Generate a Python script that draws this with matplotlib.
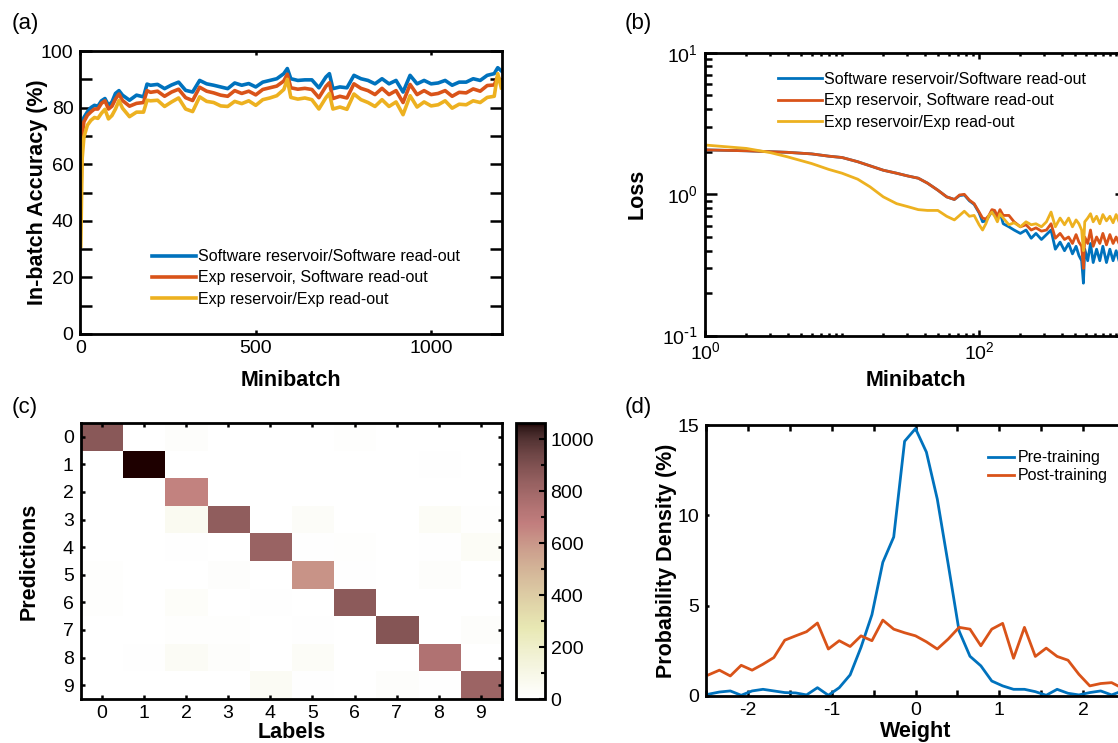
import matplotlib
matplotlib.use("Agg")
import matplotlib.pyplot as plt
import numpy as np
from matplotlib.ticker import FixedLocator, FixedFormatter, LogLocator, MultipleLocator, NullFormatter

plt.rcParams['font.family'] = ['Liberation Sans', 'DejaVu Sans']
plt.rcParams['mathtext.default'] = 'regular'

BLUE = '#0072BD'
ORANGE = '#D95319'
YELLOW = '#EDB120'
LABELS3 = ['Software reservoir/Software read-out',
           'Exp reservoir, Software read-out',
           'Exp reservoir/Exp read-out']

# (a) in-batch accuracy
mb_a = [1, 5, 10, 20, 30, 40, 50, 60, 70, 80, 90, 100, 110, 120, 140, 160, 180, 190,
        200, 220, 240, 260, 280, 300, 320, 340, 360, 380, 400, 420, 440, 460, 480,
        500, 520, 540, 560, 580, 590, 600, 620, 640, 660, 680, 700, 710, 720, 740,
        760, 780, 800, 820, 840, 860, 880, 900, 920, 940, 960, 980, 1000, 1020,
        1040, 1060, 1080, 1100, 1120, 1140, 1160, 1180, 1190, 1200]
acc_sw = [68, 74, 76.5, 78.5, 80, 80.8, 80.5, 82.4, 83.2, 80.8, 82, 85, 86, 84.4, 82.6,
          84.4, 83.8, 88.3, 87.9, 88.2, 86.7, 88, 89, 86.1, 85.5, 89.6, 88.4, 87.9,
          87.3, 86.7, 88.7, 87.9, 88.5, 87.3, 89, 89.6, 90.2, 92, 93.8, 90.2, 89.6,
          89.8, 89.8, 87, 90.8, 92, 86.7, 87.3, 87, 91.4, 90.2, 89.6, 88.4, 90.2,
          88.4, 89.6, 85.5, 91.4, 88.4, 89.6, 88.4, 88.7, 89.6, 87.9, 89, 89, 90.2,
          89.6, 91.4, 92, 94.1, 93]
acc_exp_sw = [45, 70, 75, 77.3, 78.5, 79.5, 79.5, 81.5, 82.4, 79.5, 80.5, 83, 84.8, 82.5,
              80.5, 81.5, 81.8, 86, 85.4, 85.8, 84, 85.5, 86.5, 83.5, 82.5, 87.2, 85.8,
              85.2, 84.4, 84, 86, 85, 85.8, 84.5, 86.4, 87, 87.6, 89.4, 91.8, 87, 86.5,
              86.8, 86.4, 83.5, 87.5, 88.8, 83.2, 84, 83.4, 88.4, 86.8, 86, 84.6, 86.8,
              84.6, 86, 81.8, 88.2, 84.6, 86, 84.6, 85, 86, 84, 85.4, 85.2, 86.6, 85.8,
              87.8, 88, 91, 89]
acc_exp = [31, 62, 69.6, 73.8, 75.5, 76.5, 76.2, 78, 79.4, 76, 77.2, 79.5, 82.5, 79.8,
           76.8, 78.4, 78.4, 82.6, 82.4, 82.6, 80.4, 82, 83.4, 79.5, 78.6, 83.8, 82.2,
           81.8, 80.6, 80.4, 82.2, 81.4, 82.4, 80.8, 82.8, 83.4, 84.2, 86.4, 90, 83.6,
           83, 83.4, 82.8, 79.5, 83.5, 85, 79.5, 80.2, 79.4, 84.8, 82.8, 81.8, 80.4,
           82.8, 80.4, 82, 77.5, 84.2, 80.2, 82, 80.6, 81, 82.4, 79.8, 81.2, 81, 82.4,
           81.8, 83.6, 84, 92, 87]

# (b) loss
mb_b = [1, 2, 3, 4, 6, 8, 10, 13, 16, 20, 25, 30, 36, 42, 50, 58, 66, 72, 78, 85, 92,
        100, 106, 112, 118, 124, 130, 136, 142, 150, 165, 180, 200, 220, 240, 260, 285,
        310, 335, 360, 390, 420, 450, 480, 510, 535, 560, 577, 590, 620, 650, 680, 720,
        760, 800, 850, 900, 950, 1000, 1050, 1100, 1150, 1200]
loss_sw = [2.06, 2.03, 2.0, 1.98, 1.93, 1.86, 1.82, 1.70, 1.59, 1.48, 1.41, 1.35, 1.30,
           1.20, 1.07, 0.96, 0.92, 0.98, 0.99, 0.90, 0.85, 0.74, 0.64, 0.65, 0.70, 0.76,
           0.75, 0.67, 0.75, 0.62, 0.59, 0.56, 0.53, 0.56, 0.49, 0.53, 0.48, 0.52, 0.56,
           0.41, 0.46, 0.40, 0.45, 0.38, 0.43, 0.37, 0.34, 0.236, 0.41, 0.34, 0.45,
           0.33, 0.41, 0.34, 0.43, 0.33, 0.41, 0.34, 0.40, 0.34, 0.39, 0.34, 0.37]
loss_exp_sw = [2.06, 2.03, 2.0, 1.98, 1.93, 1.86, 1.82, 1.70, 1.59, 1.48, 1.41, 1.35, 1.30,
               1.20, 1.07, 0.96, 0.92, 0.99, 1.0, 0.91, 0.86, 0.75, 0.68, 0.67, 0.71,
               0.78, 0.77, 0.70, 0.78, 0.71, 0.71, 0.64, 0.59, 0.61, 0.56, 0.58, 0.55,
               0.56, 0.62, 0.49, 0.53, 0.48, 0.50, 0.45, 0.52, 0.46, 0.43, 0.30, 0.50,
               0.45, 0.56, 0.43, 0.50, 0.45, 0.53, 0.44, 0.52, 0.45, 0.50, 0.45, 0.49,
               0.45, 0.47]
loss_exp = [2.23, 2.11, 1.97, 1.84, 1.65, 1.50, 1.41, 1.28, 1.13, 0.96, 0.86, 0.82, 0.78,
            0.77, 0.77, 0.70, 0.66, 0.71, 0.76, 0.70, 0.71, 0.61, 0.56, 0.62, 0.71, 0.75,
            0.70, 0.64, 0.73, 0.68, 0.61, 0.63, 0.59, 0.64, 0.61, 0.62, 0.59, 0.64, 0.75,
            0.59, 0.68, 0.61, 0.68, 0.59, 0.66, 0.62, 0.56, 0.40, 0.64, 0.68, 0.73, 0.64,
            0.70, 0.62, 0.72, 0.65, 0.70, 0.63, 0.72, 0.64, 0.70, 0.64, 0.68]
loss_ticks = [0.1, 1, 10]
loss_ticklabels = [r'$10^{\text{-1}}$', r'$10^{0}$', r'$10^{1}$']

# (c) confusion matrix, rows = predictions, columns = labels
digits = ['0', '1', '2', '3', '4', '5', '6', '7', '8', '9']
confusion = [
    [870, 0, 20, 0, 0, 0, 12, 0, 0, 0],
    [0, 1062, 0, 0, 0, 0, 0, 0, 8, 0],
    [0, 0, 660, 0, 0, 0, 0, 0, 0, 0],
    [0, 0, 55, 850, 0, 25, 0, 0, 35, 12],
    [0, 0, 8, 0, 820, 5, 10, 0, 6, 35],
    [12, 0, 0, 15, 0, 610, 8, 0, 18, 0],
    [10, 0, 22, 0, 8, 0, 860, 0, 0, 0],
    [0, 0, 10, 10, 0, 8, 0, 880, 0, 20],
    [0, 8, 40, 18, 0, 30, 0, 0, 740, 0],
    [0, 0, 0, 0, 45, 8, 0, 20, 5, 810],
]

# (d) weight distributions
weights = [-2.47, -2.34, -2.21, -2.08, -1.95, -1.82, -1.69, -1.56, -1.43, -1.30, -1.17,
           -1.04, -0.91, -0.78, -0.65, -0.52, -0.39, -0.26, -0.13, 0.0, 0.13, 0.26, 0.39,
           0.52, 0.65, 0.78, 0.91, 1.04, 1.17, 1.30, 1.43, 1.56, 1.69, 1.82, 1.95, 2.08,
           2.21, 2.34, 2.47]
pre_train = [0.1, 0.22, 0.28, 0.04, 0.28, 0.37, 0.28, 0.19, 0.17, 0.06, 0.46, 0.04, 0.46,
             1.17, 2.7, 4.5, 7.4, 8.8, 14.1, 14.8, 13.5, 10.9, 7.3, 3.6, 2.2, 1.67, 0.83,
             0.56, 0.37, 0.37, 0.24, 0.04, 0.37, 0.15, 0.06, 0.19, 0.28, 0.06, 0.28]
post_train = [1.17, 1.43, 1.11, 1.7, 1.43, 1.76, 2.13, 3.09, 3.33, 3.56, 4.04, 2.6, 3.06,
              2.74, 3.33, 3.06, 4.2, 3.7, 3.5, 3.33, 3.0, 2.6, 3.15, 3.8, 3.7, 2.78, 3.7,
              4.02, 2.09, 3.8, 2.19, 2.65, 2.19, 1.98, 1.2, 0.56, 0.69, 0.74, 0.43]

W, H = 1118, 743
fig = plt.figure(figsize=(W / 100, H / 100), dpi=100)


def box(l, r, t, b):
    return [l / W, (H - b) / H, (r - l) / W, (b - t) / H]


def style(ax, xlen, ylen):
    for s in ax.spines.values():
        s.set_linewidth(2.0)
    ax.tick_params(which='both', direction='in', top=True, right=True,
                   labelsize=14, width=1.8)
    ax.tick_params(axis='x', which='major', length=xlen, pad=4)
    ax.tick_params(axis='y', which='major', length=ylen, pad=5)


lab_font = dict(fontsize=15.5, fontweight='bold')

# ---- (a)
ax = fig.add_axes(box(80.4, 502.3, 51, 334))
ax.plot(mb_a, acc_sw, color=BLUE, lw=2.6, label=LABELS3[0])
ax.plot(mb_a, acc_exp_sw, color=ORANGE, lw=2.6, label=LABELS3[1])
ax.plot(mb_a, acc_exp, color=YELLOW, lw=2.6, label=LABELS3[2])
ax.set_xlim(0, 1203)
ax.set_ylim(0, 100)
ax.set_xticks([0, 500, 1000])
ax.set_yticks([0, 20, 40, 60, 80, 100])
ax.yaxis.set_minor_locator(MultipleLocator(10))
style(ax, 3, 8.5)
ax.tick_params(axis='y', which='minor', length=8.5)
ax.tick_params(axis='x', which='minor', length=0)
ax.set_xlabel('Minibatch', **lab_font)
ax.set_ylabel('In-batch Accuracy (%)', **lab_font)
ax.xaxis.set_label_coords(0.5, -0.127)
ax.yaxis.set_label_coords(-0.077, 0.5)
ax.legend(loc='upper left', bbox_to_anchor=(0.17, 0.30), frameon=False, fontsize=11.5,
          handlelength=2.75, handletextpad=0.15, labelspacing=0.4, borderpad=0,
          borderaxespad=0)

# ---- (b)
ax = fig.add_axes(box(705, 1127, 52.7, 336))
ax.plot(mb_b, loss_sw, color=BLUE, lw=2.0, label=LABELS3[0])
ax.plot(mb_b, loss_exp_sw, color=ORANGE, lw=2.0, label=LABELS3[1])
ax.plot(mb_b, loss_exp, color=YELLOW, lw=2.0, label=LABELS3[2])
ax.set_xscale('log')
ax.set_yscale('log')
ax.set_xlim(1, 1200)
ax.set_ylim(0.1, 10)
ax.xaxis.set_major_locator(FixedLocator([1, 100, 10000]))
ax.xaxis.set_major_formatter(FixedFormatter([r'$10^{0}$', r'$10^{2}$', r'$10^{4}$']))
ax.xaxis.set_minor_locator(LogLocator(base=10, subs=np.arange(1, 10), numticks=20))
ax.xaxis.set_minor_formatter(NullFormatter())
ax.yaxis.set_major_locator(FixedLocator(loss_ticks))
ax.yaxis.set_major_formatter(FixedFormatter(loss_ticklabels))
ax.yaxis.set_minor_locator(LogLocator(base=10, subs=np.arange(2, 10), numticks=20))
ax.yaxis.set_minor_formatter(NullFormatter())
style(ax, 4, 8.5)
ax.tick_params(axis='x', which='minor', length=2.5)
ax.tick_params(axis='y', which='minor', length=5)
ax.set_xlabel('Minibatch', **lab_font)
ax.set_ylabel('Loss', **lab_font)
ax.xaxis.set_label_coords(0.5, -0.12)
ax.yaxis.set_label_coords(-0.137, 0.5)
ax.legend(loc='upper left', bbox_to_anchor=(0.173, 0.932), frameon=False, fontsize=11.5,
          handlelength=2.75, handletextpad=0.15, labelspacing=0.4, borderpad=0,
          borderaxespad=0)

# ---- (c)
ax = fig.add_axes(box(80.7, 502, 423, 699))
cm = np.array(confusion)
im = ax.imshow(cm, cmap='pink_r', vmin=0, vmax=cm.max(), aspect='auto',
               interpolation='nearest')
ax.set_xticks(range(10))
ax.set_xticklabels(digits)
ax.set_yticks(range(10))
ax.set_yticklabels(digits)
style(ax, 3, 3)
ax.tick_params(which='minor', length=0)
ax.set_xlabel('Labels', **lab_font)
ax.set_ylabel('Predictions', **lab_font)
ax.xaxis.set_label_coords(0.5, -0.083)
ax.yaxis.set_label_coords(-0.097, 0.5)
cax = fig.add_axes(box(516, 545, 423, 699))
cb = fig.colorbar(im, cax=cax)
cb.set_ticks([0, 200, 400, 600, 800, 1000])
cb.outline.set_linewidth(2.0)
cax.yaxis.set_minor_locator(MultipleLocator(100))
cax.tick_params(which='both', direction='in', labelsize=14, width=1.5, pad=4)
cax.tick_params(which='major', length=4)
cax.tick_params(which='minor', length=3)

# ---- (d)
ax = fig.add_axes(box(706, 1125, 425, 696))
ax.plot(weights, pre_train, color=BLUE, lw=2.0, label='Pre-training')
ax.plot(weights, post_train, color=ORANGE, lw=2.0, label='Post-training')
ax.set_xlim(-2.5, 2.5)
ax.set_ylim(0, 15)
ax.set_xticks([-2, -1, 0, 1, 2])
ax.set_xticklabels(['-2', '-1', '0', '1', '2'])
ax.xaxis.set_minor_locator(MultipleLocator(0.5))
ax.set_yticks([0, 5, 10, 15])
style(ax, 4, 2)
ax.tick_params(axis='x', which='minor', length=4)
ax.tick_params(axis='y', which='minor', length=0)
ax.set_xlabel('Weight', **lab_font)
ax.set_ylabel('Probability Density (%)', **lab_font)
ax.xaxis.set_label_coords(0.5, -0.093)
ax.yaxis.set_label_coords(-0.069, 0.5)
ax.legend(loc='upper left', bbox_to_anchor=(0.673, 0.907), frameon=False, fontsize=11.5,
          handlelength=1.6, handletextpad=0.25, labelspacing=0.2, borderpad=0,
          borderaxespad=0)

# panel letters
for txt, x, y in [('(a)', 12, 23), ('(b)', 625, 23), ('(c)', 12, 408), ('(d)', 625, 408)]:
    fig.text(x / W, 1 - y / H, txt, fontsize=16, ha='left', va='center')

fig.savefig('out.png', dpi=100)
